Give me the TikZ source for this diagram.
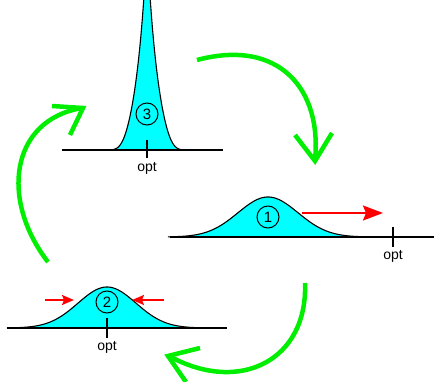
\documentclass[tikz,border=0pt]{standalone}
\usepackage{fontspec}
\setmainfont{Liberation Sans}
\usetikzlibrary{arrows.meta}
\definecolor{grn}{RGB}{0,238,0}
\definecolor{rd}{RGB}{255,0,0}
\definecolor{bellfill}{RGB}{0,255,255}
\tikzset{
 axisline/.style={line width=1.5pt},
 bell/.style={fill=bellfill, draw=black, line width=1.1pt},
 optick/.style={line width=1.5pt},
 optlabel/.style={font=\fontsize{14}{14}\selectfont, inner sep=0pt, anchor=base},
 num/.style={circle, draw, line width=1pt, minimum size=22pt, inner sep=0pt, font=\fontsize{15}{15}\selectfont},
 greenarc/.style={draw=grn, line width=4.5pt},
 greenhead/.style={draw=grn, line width=4.5pt, line join=miter},
 push/.style={draw=rd, line width=2pt, -{Stealth[length=20pt,width=15pt,inset=3pt]}},
 squeeze/.style={draw=rd, line width=1.6pt, -{Stealth[length=12pt,width=10pt,inset=2pt]}},
}
\begin{document}
\begin{tikzpicture}[x=1pt,y=-1pt]
\useasboundingbox (0,0) rectangle (434,382);
\clip (0,0) rectangle (434,382);

% ---------- diagram 3 (top, narrow) ----------
\path[bell] plot[domain=-45:45,samples=181] ({147+\x},{150-205*exp(-abs(\x)/10.5)*exp(-(\x/26)^4)}) -- cycle;
\draw[axisline] (62,150) -- (223,150);
\coordinate (t3a) at (147,140);
\coordinate (t3b) at (147,158);
\draw[optick] (t3a) -- (t3b);
\node[optlabel] (o3) at (147,172) {opt};
\node[num] (c3) at (147,114) {3};

% ---------- diagram 1 (right) ----------
\path[bell] plot[domain=-100:100,samples=161] ({268+\x},{237-40*exp(-(\x*\x)/1800)}) -- cycle;
\draw[axisline] (170,237) -- (434,237);
\coordinate (t1a) at (393,227);
\coordinate (t1b) at (393,247);
\draw[optick] (t1a) -- (t1b);
\node[optlabel] (o1) at (393,260) {opt};
\node[num] (c1) at (268,217) {1};
\coordinate (r1a) at (302,213);
\coordinate (r1b) at (383,213);
\draw[push] (r1a) -- (r1b);

% ---------- diagram 2 (bottom left) ----------
\path[bell] plot[domain=-100:100,samples=161] ({107+\x},{328-41*exp(-(\x*\x)/1682)}) -- cycle;
\draw[axisline] (7,328) -- (227,328);
\coordinate (t2a) at (107,318);
\coordinate (t2b) at (107,338);
\draw[optick] (t2a) -- (t2b);
\node[optlabel] (o2) at (107,350) {opt};
\node[num] (c2) at (107,302) {2};
\coordinate (l2a) at (45,300);
\coordinate (l2b) at (74,300);
\coordinate (r2a) at (164,300);
\coordinate (r2b) at (132,300);
\draw[squeeze] (l2a) -- (l2b);
\draw[squeeze] (r2a) -- (r2b);

% ---------- green cycle arrows ----------
\coordinate (gAs) at (197,60);
\coordinate (gAt) at (315,160);
\draw[greenarc] (gAs) .. controls (280,38) and (322,90) .. (gAt);
\draw[greenhead] (295,135) -- (315,161) -- (332,133);

\coordinate (gBs) at (305,283);
\coordinate (gBt) at (169,356);
\draw[greenarc] (gBs) .. controls (308,360) and (240,395) .. (gBt);
\draw[greenhead] (200,348) -- (168,356) -- (186,382);

\coordinate (gCs) at (48,262);
\coordinate (gCt) at (82,108);
\draw[greenarc] (gCs) .. controls (0,200) and (10,120) .. (gCt);
\draw[greenhead] (52,106) -- (83,108) -- (70,135);
\end{tikzpicture}
\end{document}
